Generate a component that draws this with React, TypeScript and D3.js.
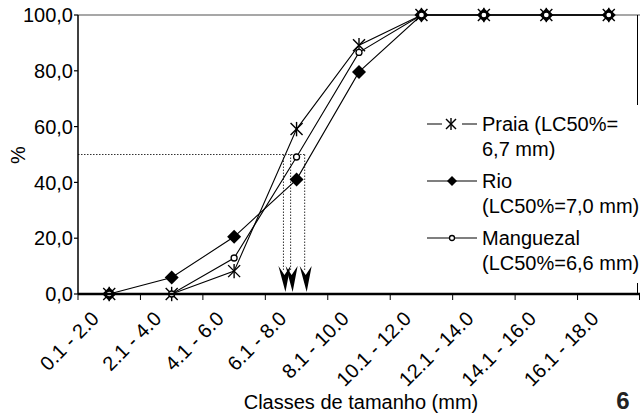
import React from "react";
import * as d3 from "d3";

const categories = ["0.1 - 2.0", "2.1 - 4.0", "4.1 - 6.0", "6.1 - 8.0", "8.1 - 10.0", "10.1 - 12.0", "12.1 - 14.0", "14.1 - 16.0", "16.1 - 18.0"];
const praia = [0, 0, 8.2, 59.1, 89.2, 100, 100, 100, 100];
const rio = [0, 5.9, 20.5, 41, 79.6, 100, 100, 100, 100];
const manguezal = [0, 0, 12.9, 49.1, 86.6, 100, 100, 100, 100];
const yTicks = [0, 20, 40, 60, 80, 100];
const lc50Level = 50;
// arrow positions (mm on the class-centre scale)
const arrowMm = [6.63, 6.86, 7.31];
const legendLines = [
  ["Praia (LC50%=", "6,7 mm)"],
  ["Rio", "(LC50%=7,0 mm)"],
  ["Manguezal", "(LC50%=6,6 mm)"],
];

const W = 640, H = 415;
const L = 78, R = 640, T = 15, B = 294;
const FONT = "'Liberation Sans', Arial, sans-serif";

function Star({ x, y, s }: { x: number; y: number; s: number }) {
  return (
    <g stroke="#000" strokeWidth={1.4}>
      <line x1={x - s} y1={y - s} x2={x + s} y2={y + s} />
      <line x1={x - s} y1={y + s} x2={x + s} y2={y - s} />
      <line x1={x} y1={y - s * 1.2} x2={x} y2={y + s * 1.2} />
    </g>
  );
}
function Diamond({ x, y, s }: { x: number; y: number; s: number }) {
  return <path d={`M${x},${y - s}L${x + s},${y}L${x},${y + s}L${x - s},${y}Z`} fill="#000" />;
}
function Circ({ x, y, r }: { x: number; y: number; r: number }) {
  return <circle cx={x} cy={y} r={r} fill="#fff" stroke="#000" strokeWidth={1.3} />;
}

export default function App() {
  const x = d3.scaleBand<string>().domain(categories).range([L, R]).padding(0);
  const bw = x.bandwidth();
  const cx = (c: string) => (x(c) as number) + bw / 2;
  const y = d3.scaleLinear().domain([0, 100]).range([B, T]);
  const xMm = d3.scaleLinear().domain([1.05, 17.05]).range([cx(categories[0]), cx(categories[8])]);
  const line = d3.line<number>().x((_, i) => cx(categories[i])).y((d) => y(d));

  const arrowXs = arrowMm.map((m) => xMm(m));
  const maxArrowX = d3.max(arrowXs) as number;
  const arrowTop = 266;

  const legX = 427, legTxt = 482;
  const legRows = [124, 181, 238];

  return (
    <svg width={W} height={H} style={{ position: "absolute", left: 0, top: 0, background: "#fff" }} fontFamily={FONT}>
      {/* plot border top (gray) and right */}
      <line x1={L} y1={T} x2={R} y2={T} stroke="#8a8a8a" strokeWidth={1.5} />
      <line x1={637.5} y1={T} x2={637.5} y2={B} stroke="#000" strokeWidth={1} />

      {/* dotted reference lines */}
      <line x1={L} y1={y(lc50Level)} x2={maxArrowX} y2={y(lc50Level)} stroke="#333" strokeWidth={1} strokeDasharray="1.5,1.5" />
      {arrowXs.map((ax, i) => (
        <line key={i} x1={ax} y1={y(lc50Level)} x2={ax} y2={arrowTop + 4} stroke="#333" strokeWidth={1} strokeDasharray="1.5,1.5" />
      ))}
      {arrowXs.map((ax, i) => (
        <path key={"a" + i} d={`M${ax - 5},${arrowTop}L${ax + 1},${arrowTop + 9}L${ax + 7},${arrowTop}L${ax + 2},${B - 2}Z`} fill="#000" />
      ))}

      {/* series lines */}
      {[praia, rio, manguezal].map((s, i) => (
        <path key={i} d={line(s) as string} fill="none" stroke="#000" strokeWidth={1.1} />
      ))}

      {/* markers */}
      {rio.map((v, i) => <Diamond key={"r" + i} x={cx(categories[i])} y={y(v)} s={7} />)}
      {praia.map((v, i) => <Star key={"p" + i} x={cx(categories[i])} y={y(v)} s={6} />)}
      {manguezal.map((v, i) => <Circ key={"m" + i} x={cx(categories[i])} y={y(v)} r={3} />)}

      {/* axes */}
      <line x1={L} y1={T} x2={L} y2={B} stroke="#000" strokeWidth={1.5} />
      {yTicks.map((t) => (
        <g key={t}>
          <line x1={L - 4} y1={y(t)} x2={L} y2={y(t)} stroke="#000" strokeWidth={1.2} />
          <text x={L - 5} y={y(t)} dy="0.36em" textAnchor="end" fontSize={20} fill="#000">
            {d3.format(".1f")(t).replace(".", ",")}
          </text>
        </g>
      ))}
      <line x1={L} y1={B} x2={R} y2={B} stroke="#000" strokeWidth={2.5} />
      {categories.map((c, i) => (
        <line key={"t" + i} x1={x(c) as number} y1={B} x2={x(c) as number} y2={B + 6} stroke="#000" strokeWidth={1} />
      ))}
      <line x1={R - 0.5} y1={B} x2={R - 0.5} y2={B + 6} stroke="#000" strokeWidth={1} />
      {categories.map((c) => (
        <text key={c} transform={`translate(${cx(c) - 9},${B + 26}) rotate(-45)`} textAnchor="end" fontSize={20} fill="#000">
          {c}
        </text>
      ))}

      {/* legend */}
      <rect x={418} y={105} width={222} height={178} fill="#fff" />
      <line x1={legX} y1={legRows[0]} x2={legX + 50} y2={legRows[0]} stroke="#000" strokeWidth={1.1} />
      <rect x={legX + 15} y={legRows[0] - 8} width={20} height={16} fill="#fff" />
      <Star x={legX + 24} y={legRows[0]} s={5} />
      <line x1={legX} y1={legRows[1]} x2={legX + 50} y2={legRows[1]} stroke="#000" strokeWidth={1.1} />
      <Diamond x={legX + 25} y={legRows[1]} s={5} />
      <line x1={legX} y1={legRows[2]} x2={legX + 50} y2={legRows[2]} stroke="#000" strokeWidth={1.1} />
      <Circ x={legX + 25} y={legRows[2]} r={2.5} />
      {legendLines.map((ls, i) =>
        ls.map((t, j) => (
          <text key={i + "-" + j} x={legTxt} y={legRows[i] + j * 25} dy="0.36em" fontSize={20} fill="#000">
            {t}
          </text>
        ))
      )}

      {/* titles */}
      <text transform={`translate(18,155) rotate(-90)`} textAnchor="middle" dy="0.36em" fontSize={20} fill="#000">%</text>
      <text x={361} y={409} textAnchor="middle" fontSize={20} fill="#000">Classes de tamanho (mm)</text>
      <text x={623} y={409} textAnchor="middle" fontSize={24} fontWeight="bold" fill="#222">6</text>
    </svg>
  );
}
